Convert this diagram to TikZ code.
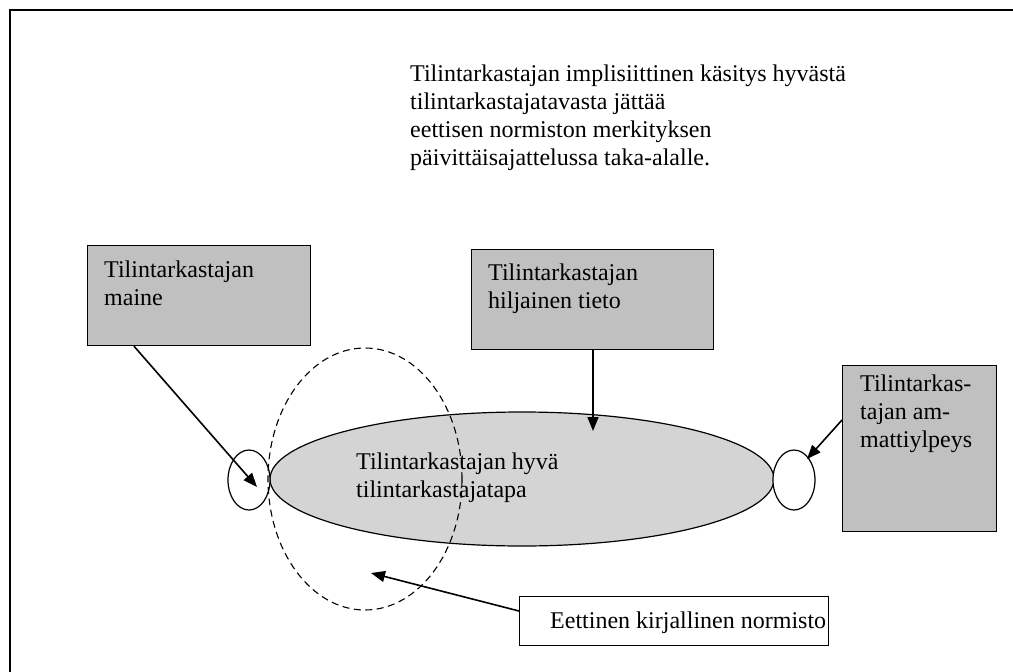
\documentclass[tikz,border=0pt]{standalone}
\usepackage{fontspec}
\setmainfont{Liberation Serif}
\usetikzlibrary{arrows.meta,shapes.geometric}
\definecolor{boxgray}{RGB}{192,192,192}
\definecolor{ovalgray}{RGB}{212,212,212}
\tikzset{
  txt/.style={inner sep=0pt, anchor=north west, align=left,
    font=\fontsize{24}{28}\selectfont},
  graybox/.style={draw, line width=1.2pt, fill=boxgray, anchor=north west,
    inner sep=0pt},
  whitebox/.style={draw, line width=1.2pt, fill=white, anchor=north west,
    inner sep=0pt},
  oval/.style={ellipse, draw, line width=1.2pt, inner sep=0pt},
  conn/.style={line width=1.6pt, -{Triangle[length=14pt,width=11pt]}},
}
\begin{document}
\begin{tikzpicture}[x=1pt,y=-1pt]
\useasboundingbox (0,0) rectangle (1013,672);
% page frame
\coordinate (fl) at (10,672);
\coordinate (fc) at (10,10);
\coordinate (fr) at (1013,10);
\draw[line width=2pt] (fl) -- (fc) -- (fr);

% heading text
\node[txt] (head) at (410,61.4)
  {\strut Tilintarkastajan implisiittinen käsitys hyvästä\\
   tilintarkastajatavasta jättää\\
   eettisen normiston merkityksen\\
   päivittäisajattelussa taka-alalle.};

% boxes
\node[graybox, minimum width=223pt, minimum height=100pt] (maine) at (87,245) {};
\node[txt] (maineT) at (104,257.4) {\strut Tilintarkastajan\\maine};

\node[graybox, minimum width=242pt, minimum height=100pt] (tieto) at (471,249) {};
\node[txt] (tietoT) at (488,260.4) {\strut Tilintarkastajan\\hiljainen tieto};

\node[graybox, minimum width=154pt, minimum height=166pt] (ylpeys) at (842,365) {};
\node[txt] (ylpeysT) at (860,371.4) {\strut Tilintarkas-\\tajan am-\\mattiylpeys};

\node[whitebox, minimum width=309pt, minimum height=49pt] (normi) at (519,596) {};
\node[txt] (normiT) at (550,608.4) {\strut Eettinen kirjallinen normisto};

% ovals
\node[oval, fill=ovalgray, minimum width=504pt, minimum height=134pt] (tapa) at (522,479) {};
\node[oval, fill=white, minimum width=42pt, minimum height=60pt] (lo) at (249,480) {};
\node[oval, fill=white, minimum width=42pt, minimum height=60pt] (ro) at (794,480) {};
\node[ellipse, draw, line width=1.1pt, dash pattern=on 7pt off 4.5pt,
      minimum width=194pt, minimum height=262pt, inner sep=0pt] (etiikka) at (365,479) {};
\node[txt] (tapaT) at (356,449.4) {\strut Tilintarkastajan hyvä\\tilintarkastajatapa};

% connectors
\coordinate (a1) at ([xshift=47pt]maine.south west);
\coordinate (b1) at (257,487);
\draw[conn] (a1) -- (b1);
\coordinate (a2) at ([xshift=122pt]tieto.south west);
\coordinate (b2) at (593,431);
\draw[conn] (a2) -- (b2);
\coordinate (a3) at ([yshift=-55pt]ylpeys.north west);
\coordinate (b3) at (807,459);
\draw[conn] (a3) -- (b3);
\coordinate (a4) at ([yshift=-15pt]normi.north west);
\coordinate (b4) at (371,573);
\draw[conn] (a4) -- (b4);
\end{tikzpicture}
\end{document}
